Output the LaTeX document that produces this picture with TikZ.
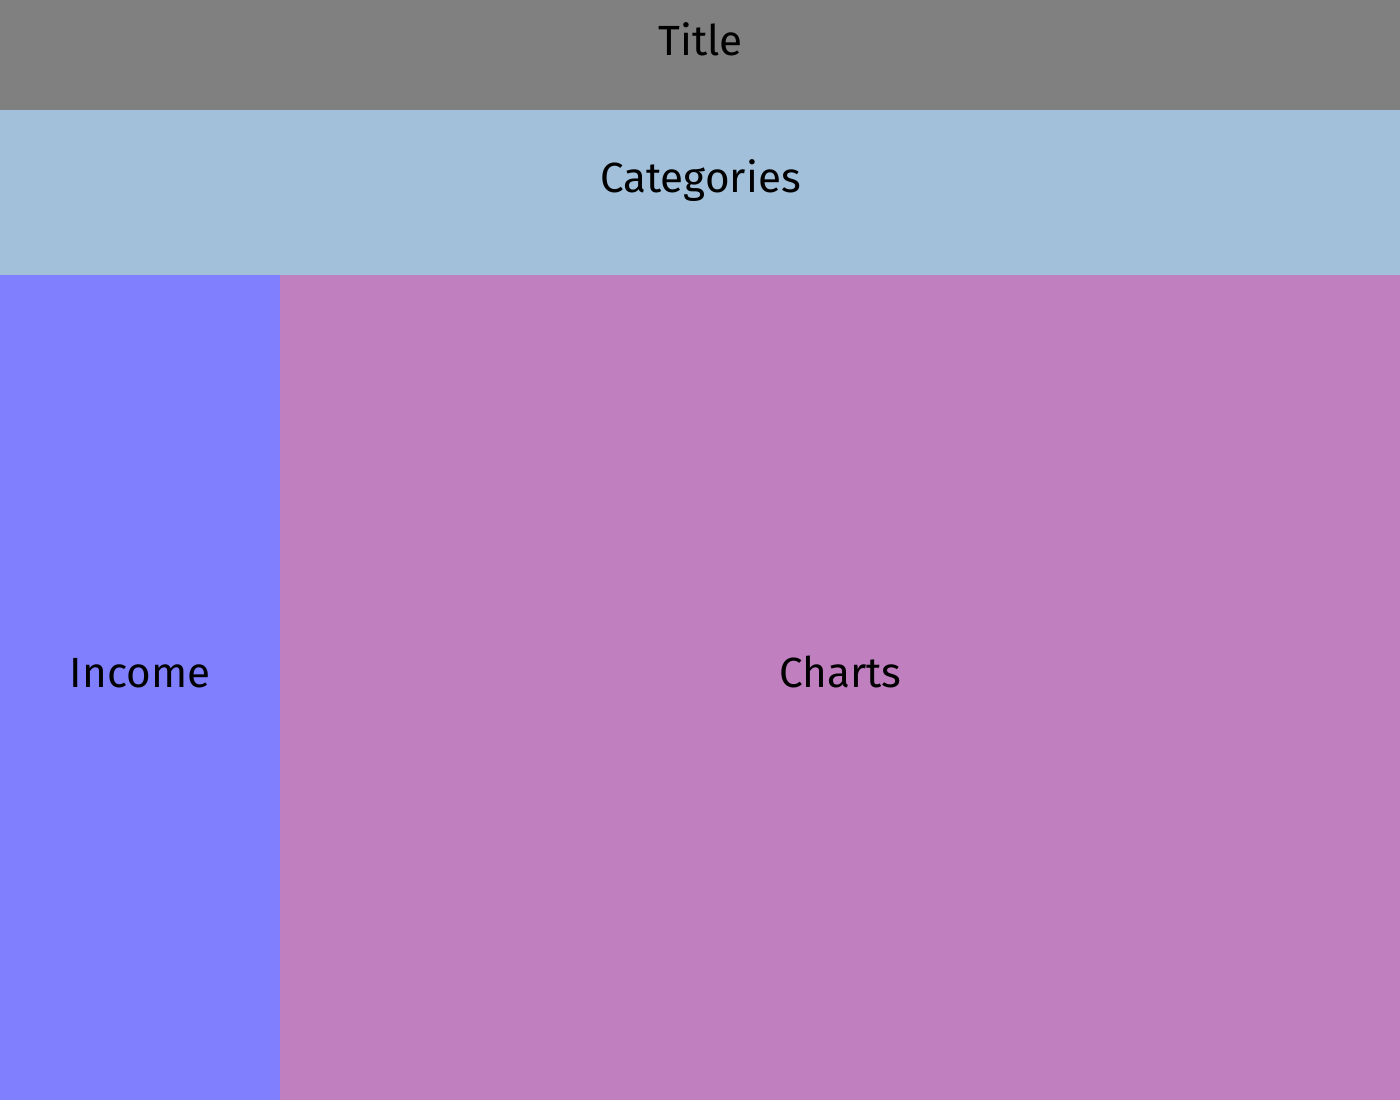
\documentclass[tikz,border=0pt]{standalone}
\usepackage{fontspec}
\setmainfont{Fira Sans}
\usetikzlibrary{positioning}
\definecolor{titlegray}{HTML}{808080}
\definecolor{catblue}{HTML}{A2C0DA}
\definecolor{incblue}{HTML}{8080FF}
\definecolor{chartpink}{HTML}{C080C0}
\tikzset{
  panel/.style={inner sep=0pt, outer sep=0pt, draw=none, anchor=north west},
  lbl/.style={font=\fontsize{12}{14.4}\selectfont, text=black, anchor=base, inner sep=0pt}
}
\begin{document}
\begin{tikzpicture}[x=0.01cm,y=0.01cm]
  \useasboundingbox (0,0) rectangle (1400,1100);

  % bands
  \node[panel, fill=titlegray, minimum width=14cm, minimum height=1.1cm] (title) at (0,1100) {};
  \node[panel, fill=catblue, minimum width=14cm, minimum height=1.65cm, below=0pt of title.south west, anchor=north west] (cats) {};
  \node[panel, fill=incblue, minimum width=2.8cm, minimum height=8.25cm, below=0pt of cats.south west, anchor=north west] (income) {};
  \node[panel, fill=chartpink, minimum width=11.2cm, minimum height=8.25cm, right=0pt of income.north east, anchor=north west] (charts) {};

  % labels
  \node[lbl] (titletext) at (title.center) {Title};
  \node[lbl] (catstext) at (cats.center) {Categories};
  \node[lbl] (incometext) at (income.center) {Income};
  \node[lbl] (chartstext) at (charts.center) {Charts};
\end{tikzpicture}
\end{document}
